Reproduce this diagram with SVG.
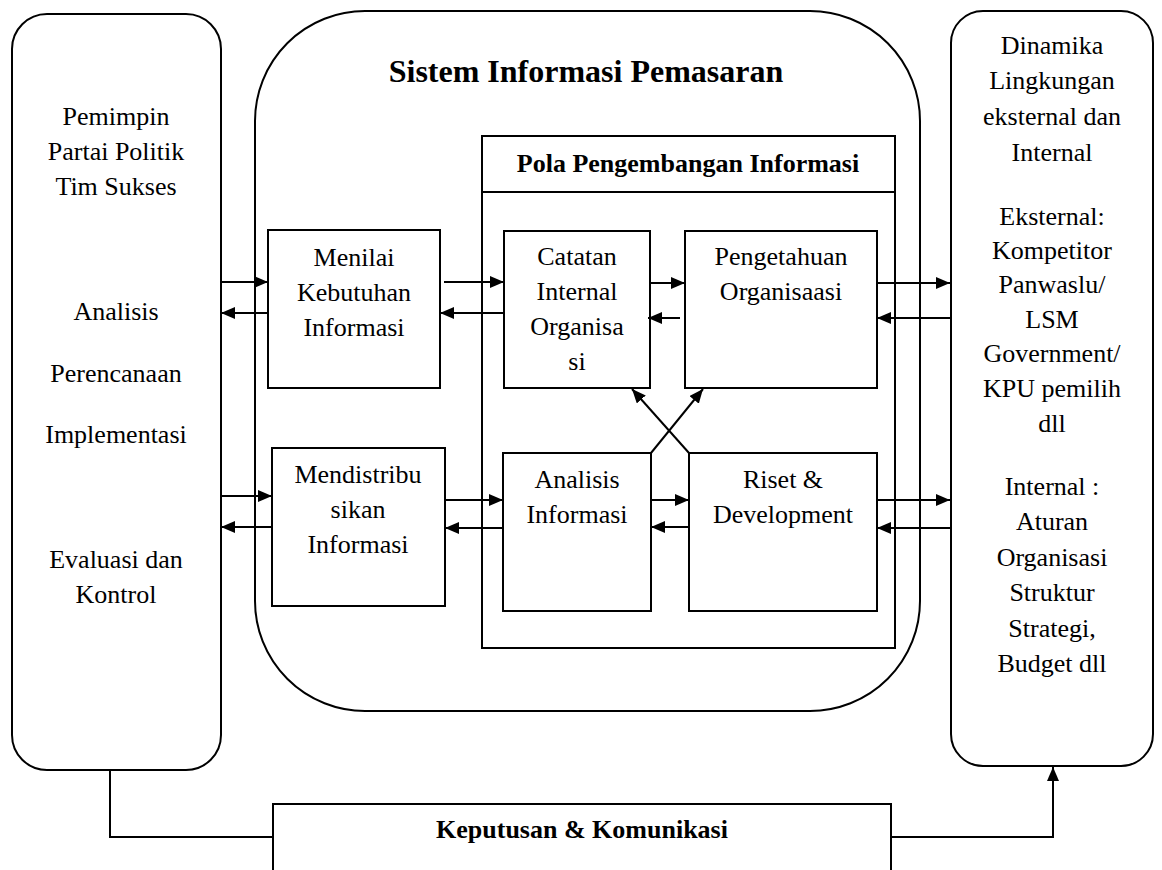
<svg xmlns="http://www.w3.org/2000/svg" width="1162" height="870" viewBox="0 0 1162 870">
<style>
.box{fill:none;stroke:#000;stroke-width:2}
.t{font-family:"Liberation Serif","Times New Roman",serif;font-size:26px;fill:#000;text-anchor:middle}
.b{font-weight:bold}
.c{fill:none;stroke:#000;stroke-width:2}
</style>
<defs>
<marker id="ah" viewBox="0 0 14 12" refX="14" refY="6" markerWidth="14" markerHeight="12" markerUnits="userSpaceOnUse" orient="auto">
<path d="M0,0 L14,6 L0,12 z" fill="#000"/>
</marker>
</defs>
<rect width="1162" height="870" fill="#fff"/>

<g id="sim">
<rect class="box" x="255" y="11" width="665" height="700" rx="110" ry="110"/>
<text class="t b" x="586" y="82" style="font-size:32px">Sistem Informasi Pemasaran</text>
</g>

<g id="pemimpin">
<rect class="box" x="12" y="14" width="209" height="756" rx="35" ry="35"/>
<text class="t" x="116" y="125">Pemimpin</text>
<text class="t" x="116" y="160">Partai Politik</text>
<text class="t" x="116" y="195">Tim Sukses</text>
<text class="t" x="116" y="320">Analisis</text>
<text class="t" x="116" y="382">Perencanaan</text>
<text class="t" x="116" y="443">Implementasi</text>
<text class="t" x="116" y="568">Evaluasi dan</text>
<text class="t" x="116" y="603">Kontrol</text>
</g>

<g id="lingkungan">
<rect class="box" x="951" y="11" width="202" height="755" rx="32" ry="32"/>
<text class="t" x="1052" y="54">Dinamika</text>
<text class="t" x="1052" y="89">Lingkungan</text>
<text class="t" x="1052" y="125">eksternal dan</text>
<text class="t" x="1052" y="161">Internal</text>
<text class="t" x="1052" y="225">Eksternal:</text>
<text class="t" x="1052" y="259">Kompetitor</text>
<text class="t" x="1052" y="293">Panwaslu/</text>
<text class="t" x="1052" y="328">LSM</text>
<text class="t" x="1052" y="362">Government/</text>
<text class="t" x="1052" y="397">KPU pemilih</text>
<text class="t" x="1052" y="432">dll</text>
<text class="t" x="1052" y="495">Internal :</text>
<text class="t" x="1052" y="530">Aturan</text>
<text class="t" x="1052" y="566">Organisasi</text>
<text class="t" x="1052" y="601">Struktur</text>
<text class="t" x="1052" y="637">Strategi,</text>
<text class="t" x="1052" y="672">Budget dll</text>
</g>

<g id="pola">
<rect class="box" x="482" y="136" width="413" height="512"/>
<line class="box" x1="482" y1="192" x2="895" y2="192"/>
<text class="t b" x="688" y="172">Pola Pengembangan Informasi</text>
</g>

<g id="menilai">
<rect class="box" x="268" y="230" width="172" height="158"/>
<text class="t" x="354" y="266">Menilai</text>
<text class="t" x="354" y="301">Kebutuhan</text>
<text class="t" x="354" y="336">Informasi</text>
</g>

<g id="catatan">
<rect class="box" x="504" y="231" width="146" height="157"/>
<text class="t" x="577" y="265">Catatan</text>
<text class="t" x="577" y="300">Internal</text>
<text class="t" x="577" y="335">Organisa</text>
<text class="t" x="577" y="370">si</text>
</g>

<g id="pengetahuan">
<rect class="box" x="685" y="231" width="192" height="157"/>
<text class="t" x="781" y="265">Pengetahuan</text>
<text class="t" x="781" y="300">Organisaasi</text>
</g>

<g id="mendistribusikan">
<rect class="box" x="272" y="448" width="173" height="158"/>
<text class="t" x="358" y="483">Mendistribu</text>
<text class="t" x="358" y="518">sikan</text>
<text class="t" x="358" y="553">Informasi</text>
</g>

<g id="analisis">
<rect class="box" x="503" y="453" width="148" height="158"/>
<text class="t" x="577" y="488">Analisis</text>
<text class="t" x="577" y="523">Informasi</text>
</g>

<g id="riset">
<rect class="box" x="689" y="453" width="188" height="158"/>
<text class="t" x="783" y="488">Riset &amp;</text>
<text class="t" x="783" y="523">Development</text>
</g>

<g id="keputusan">
<rect class="box" x="273" y="804" width="618" height="90"/>
<text class="t b" x="582" y="838">Keputusan &amp; Komunikasi</text>
</g>

<g id="connectors">
<path class="c" d="M221,282 H268" marker-end="url(#ah)"/>
<path class="c" d="M268,313 H221" marker-end="url(#ah)"/>
<path class="c" d="M444,282 H504" marker-end="url(#ah)"/>
<path class="c" d="M504,313 H440" marker-end="url(#ah)"/>
<path class="c" d="M650,283 H685" marker-end="url(#ah)"/>
<path class="c" d="M680,318 H648" marker-end="url(#ah)"/>
<path class="c" d="M877,283 H950" marker-end="url(#ah)"/>
<path class="c" d="M950,318 H877" marker-end="url(#ah)"/>
<path class="c" d="M651,453 L703,389" marker-end="url(#ah)"/>
<path class="c" d="M689,453 L632,389" marker-end="url(#ah)"/>
<path class="c" d="M221,496 H272" marker-end="url(#ah)"/>
<path class="c" d="M272,527 H221" marker-end="url(#ah)"/>
<path class="c" d="M445,500 H503" marker-end="url(#ah)"/>
<path class="c" d="M503,528 H445" marker-end="url(#ah)"/>
<path class="c" d="M651,500 H689" marker-end="url(#ah)"/>
<path class="c" d="M689,527 H651" marker-end="url(#ah)"/>
<path class="c" d="M877,500 H950" marker-end="url(#ah)"/>
<path class="c" d="M950,528 H877" marker-end="url(#ah)"/>
<path class="c" d="M110,770 V837 H273"/>
<path class="c" d="M891,837 H1053 V767" marker-end="url(#ah)"/>
</g>
</svg>
